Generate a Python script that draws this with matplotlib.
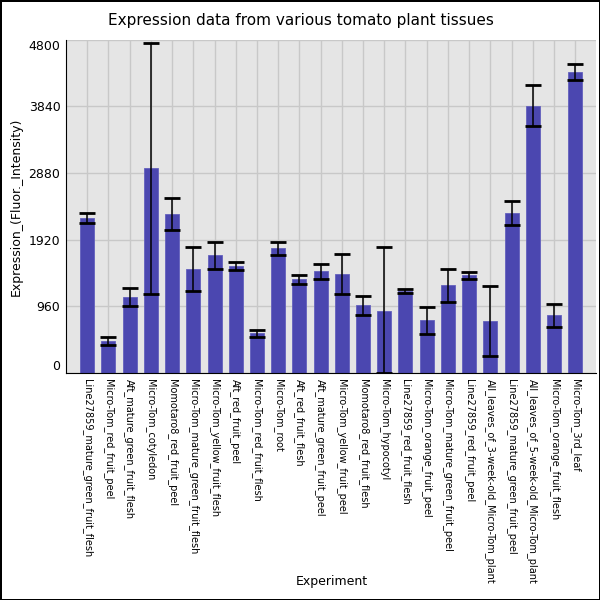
import numpy as np
import matplotlib
matplotlib.use('Agg')
import matplotlib.pyplot as plt

tissues = ['Line27859_mature_green_fruit_flesh', 'Micro-Tom_red_fruit_peel',
           'Aft_mature_green_fruit_flesh', 'Micro-Tom_cotyledon',
           'Momotaro8_red_fruit_peel', 'Micro-Tom_mature_green_fruit_flesh',
           'Micro-Tom_yellow_fruit_flesh', 'Aft_red_fruit_peel',
           'Micro-Tom_red_fruit_flesh', 'Micro-Tom_root', 'Aft_red_fruit_flesh',
           'Aft_mature_green_fruit_peel', 'Micro-Tom_yellow_fruit_peel',
           'Momotaro8_red_fruit_flesh', 'Micro-Tom_hypocotyl',
           'Line27859_red_fruit_flesh', 'Micro-Tom_orange_fruit_peel',
           'Micro-Tom_mature_green_fruit_peel', 'Line27859_red_fruit_peel',
           'All_leaves_of_3-week-old_Micro-Tom_plant',
           'Line27859_mature_green_fruit_peel',
           'All_leaves_of_5-week-old_Micro-Tom_plant',
           'Micro-Tom_orange_fruit_flesh', 'Micro-Tom_3rd_leaf']
expression = [2240, 465, 1095, 2950, 2290, 1495, 1695, 1538, 575, 1797, 1352, 1468,
              1425, 975, 888, 1180, 762, 1262, 1408, 748, 2302, 3845, 835, 4335]
errors = [72, 58, 132, 1807, 230, 314, 192, 60, 53, 94, 62, 108,
          290, 134, 922, 29, 197, 233, 53, 504, 175, 295, 166, 113]
yticks = [0, 960, 1920, 2880, 3840, 4800]

fig = plt.figure(figsize=(6, 6), dpi=100, linewidth=1, edgecolor='black')
ax = fig.add_axes([0.11, 0.378, 0.884, 0.556])

x = np.arange(len(tissues))
ax.set_facecolor('#e5e5e5')
ax.bar(x, expression, width=0.66, color='#4b47b0', edgecolor='#6360bd',
       linewidth=0.6, zorder=2)
lower = np.minimum(errors, expression)
ax.errorbar(x, expression, yerr=[lower, errors], fmt='none', ecolor='black',
            elinewidth=1.1, capsize=6, capthick=2, zorder=3)

ax.set_xlim(-1, len(tissues))
ax.set_ylim(0, 4800)
ax.set_yticks(yticks)
ax.set_yticklabels([str(v) for v in yticks], fontsize=9)
ax.set_xticks(x)
ax.set_xticklabels(tissues, rotation=-90, fontsize=7, va='top', ha='center')
ax.tick_params(length=0, pad=4)
labels = ax.get_yticklabels()
labels[0].set_va('bottom')
labels[-1].set_va('top')

ax.grid(True, color='#c8c8c8', linewidth=1, zorder=0)
ax.set_axisbelow(True)
for side in ['top', 'right']:
    ax.spines[side].set_visible(False)
ax.spines['left'].set_color('black')
ax.spines['bottom'].set_color('black')

fig.text(0.502, 0.965, 'Expression data from various tomato plant tissues',
         ha='center', va='center', fontsize=11)
ax.set_ylabel('Expression_(Fluor._Intensity)', fontsize=9)
fig.text(0.553, 0.025, 'Experiment', ha='center', fontsize=9)

fig.savefig('out.png', dpi=100, edgecolor=fig.get_edgecolor())
